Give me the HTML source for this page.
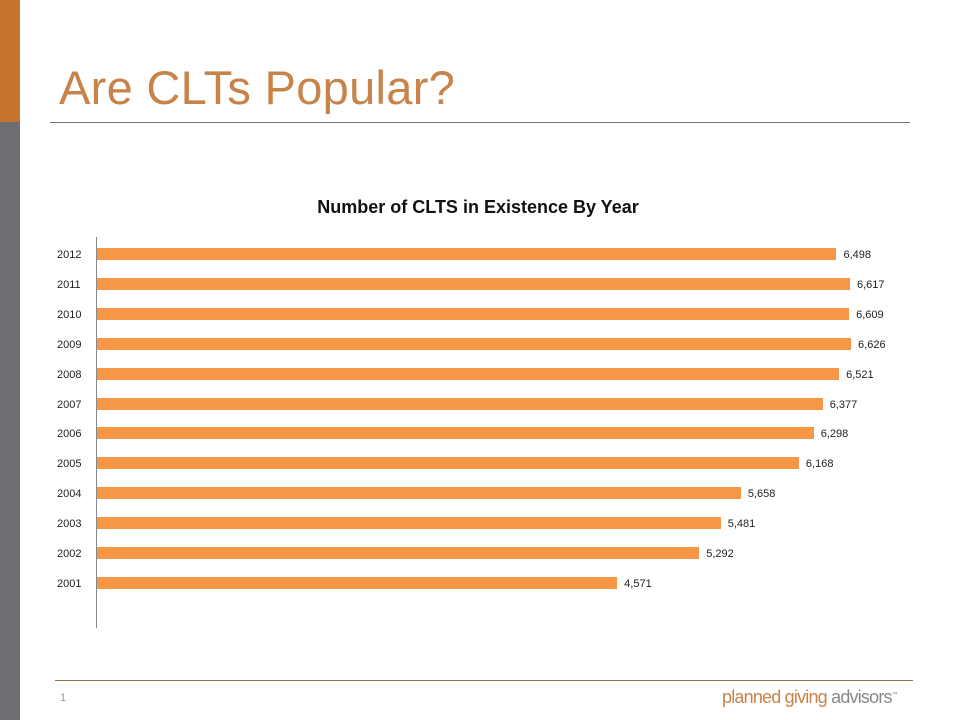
<!DOCTYPE html>
<html><head><style>
body{margin:0;width:960px;height:720px;position:relative;background:#fff;font-family:"Liberation Sans",sans-serif;overflow:hidden}
.a{position:absolute}
.lbl{position:absolute;font-size:11px;color:#222}
.bar{position:absolute;left:97px;height:12px;background:#f79646}
</style></head><body>
<div class="a" style="left:0;top:0;width:20px;height:122px;background:#c8742e"></div>
<div class="a" style="left:0;top:122px;width:20px;height:598px;background:#6d6e71"></div>
<div class="a" style="left:59px;top:60px;font-size:47px;color:#c8834a;letter-spacing:0.3px">Are CLTs Popular?</div>
<div class="a" style="left:50px;top:122px;width:860px;height:1px;background:#777"></div>
<div class="a" style="left:0;top:197px;width:956px;text-align:center;font-size:18px;font-weight:bold;color:#111">Number of CLTS in Existence By Year</div>
<div class="a" style="left:96px;top:237px;width:1px;height:391px;background:#888"></div>
<div id="c"></div>
<div class="a" style="left:55px;top:680px;width:858px;height:1px;background:#8c7350"></div>
<div class="a" style="left:60px;top:692px;font-size:11px;color:#999">1</div>
<div class="a" style="left:722px;top:687px;font-size:18px;color:#888;letter-spacing:-0.8px"><span style="color:#c8834a">planned giving</span> advisors<sup style="font-size:6px">™</sup></div>
<script>
var d=[[2012,6498],[2011,6617],[2010,6609],[2009,6626],[2008,6521],[2007,6377],[2006,6298],[2005,6168],[2004,5658],[2003,5481],[2002,5292],[2001,4571]];
var h='';d.forEach(function(r,i){var y=248+i*29.9;var w=r[1]*0.1138;
h+='<div class="lbl" style="left:57px;top:'+(y+1)+'px">'+r[0]+'</div>';
h+='<div class="bar" style="top:'+y+'px;width:'+w+'px"></div>';
h+='<div class="lbl" style="left:'+(97+w+7)+'px;top:'+(y+1)+'px">'+r[1].toLocaleString('en-US')+'</div>';});
document.getElementById('c').innerHTML=h;
</script>
</body></html>
